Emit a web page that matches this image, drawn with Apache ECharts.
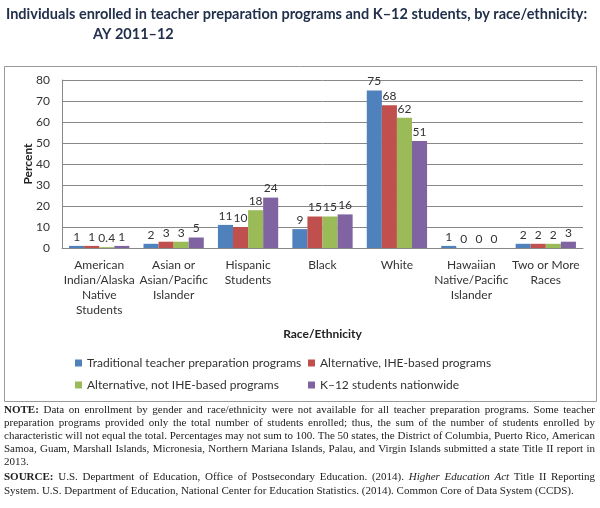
<!DOCTYPE html>
<html><head><meta charset="utf-8">
<script src="https://cdn.jsdelivr.net/npm/echarts@6/dist/echarts.min.js"></script>
<style>html,body{margin:0;padding:0;background:#fff}#c{width:600px;height:508px}</style>
</head><body><div id="c"></div>
<script>
var categories = ['American\nIndian/Alaska\nNative\nStudents','Asian or\nAsian/Pacific\nIslander','Hispanic\nStudents','Black','White','Hawaiian\nNative/Pacific\nIslander','Two or More\nRaces'];
var seriesNames = ['Traditional teacher preparation programs','Alternative, IHE-based programs','Alternative, not IHE-based programs','K\u201312 students nationwide'];
var traditional = [1, 2, 11, 9, 75, 1, 2];
var altIHE = [1, 3, 10, 15, 68, 0, 2];
var altNotIHE = [0.4, 3, 18, 15, 62, 0, 2];
var k12 = [1, 5, 24, 16, 51, 0, 3];
var yTicks = [0, 80, 10];
var colors = ['#4F81BD','#C0504D','#9BBB59','#8064A2'];
var noteLines = [
 '{b|NOTE:} Data on enrollment by gender and race/ethnicity were not available for all teacher preparation programs. Some teacher',
 'preparation programs provided only the total number of students enrolled; thus, the sum of the number of students enrolled by',
 'characteristic will not equal the total. Percentages may not sum to 100. The 50 states, the District of Columbia, Puerto Rico, American',
 'Samoa, Guam, Marshall Islands, Micronesia, Northern Mariana Islands, Palau, and Virgin Islands submitted a state Title II report in',
 '2013.',
 '{b|SOURCE:} U.S. Department of Education, Office of Postsecondary Education. (2014). {i|Higher Education Act} Title II Reporting',
 'System. U.S. Department of Education, National Center for Education Statistics. (2014). Common Core of Data System (CCDS).'
];
var noteJustify = [true, true, true, true, false, true, false];
var noteY = [410, 423, 436, 449, 462, 477, 491];

var chart = echarts.init(document.getElementById('c'));
var dataSets = [traditional, altIHE, altNotIHE, k12];
var series = dataSets.map(function(d, i){
  return {
    name: seriesNames[i], type: 'bar', data: d, barGap: '0%', barCategoryGap: '19%',
    itemStyle: {color: colors[i]},
    label: {show: true, position: 'top', distance: 3, color: '#333', fontFamily: 'Lato', fontSize: 12}
  };
});
var legendPos = [[70,352],[303,352],[70,374],[303,374]];
var legends = seriesNames.map(function(n, i){
  return {data: [n], left: legendPos[i][0], top: legendPos[i][1], itemWidth: 7, itemHeight: 7, icon: 'rect', itemGap: 4,
    textStyle: {fontFamily: 'Lato', fontSize: 12, color: '#333'}, selectedMode: false};
});
var titleColor = '#22304c';
var graphics = [
  {type: 'rect', shape: {x: 4.5, y: 66.5, width: 592, height: 335}, style: {fill: 'none', stroke: '#999', lineWidth: 1}, z: -1},
  {type: 'text', left: 6, top: 7, style: {text: 'Individuals enrolled in teacher preparation programs and K\u201312 students, by race/ethnicity:', fontFamily: 'Lato', fontWeight: 'bold', fontSize: 14.5, fill: titleColor}},
  {type: 'text', left: 93, top: 27, style: {text: 'AY 2011\u201312', fontFamily: 'Lato', fontWeight: 'bold', fontSize: 14.5, fill: titleColor}}
];

// justified note text: each word laid out with measured widths
var FS = 11, FAM = '"Liberation Serif"';
var ctx = document.createElement('canvas').getContext('2d');
function fontOf(st){ return (st === 'i' ? 'italic ' : '') + (st === 'b' ? 'bold ' : '') + FS + 'px ' + FAM; }
function tokenize(line){
  var toks = [], re = /\{(b|i)\|([^}]*)\}|(\S+)/g, m;
  while ((m = re.exec(line))){
    if (m[1]) m[2].split(' ').forEach(function(w){ toks.push({t: w, s: m[1]}); });
    else toks.push({t: m[3], s: ''});
  }
  return toks;
}
var X0 = 4, X1 = 595;
noteLines.forEach(function(line, li){
  var toks = tokenize(line);
  var total = 0;
  toks.forEach(function(tk){ ctx.font = fontOf(tk.s); tk.w = ctx.measureText(tk.t).width; total += tk.w; });
  ctx.font = fontOf('');
  var sp = ctx.measureText(' ').width;
  var gap = noteJustify[li] && toks.length > 1 ? (X1 - X0 - total) / (toks.length - 1) : sp;
  var x = X0;
  toks.forEach(function(tk){
    graphics.push({type: 'text', x: x, y: noteY[li], style: {text: tk.t, fontFamily: 'Liberation Serif', fontSize: FS,
      fontWeight: tk.s === 'b' ? 'bold' : 'normal', fontStyle: tk.s === 'i' ? 'italic' : 'normal', fill: '#222', verticalAlign: 'middle'}});
    x += tk.w + gap;
  });
});

chart.setOption({
  animation: false,
  color: colors,
  grid: {left: 62, right: 17, top: 80, bottom: 260, containLabel: false},
  legend: legends,
  xAxis: {type: 'category', data: categories, name: 'Race/Ethnicity', nameLocation: 'middle', nameGap: 80, nameMoveOverlap: false,
    nameTextStyle: {fontFamily: 'Lato', fontWeight: 'bold', fontSize: 12, color: '#222'},
    axisLine: {lineStyle: {color: '#888'}}, axisTick: {show: false},
    axisLabel: {interval: 0, fontFamily: 'Lato', fontSize: 12, color: '#333', lineHeight: 15, margin: 10}},
  yAxis: {type: 'value', min: yTicks[0], max: yTicks[1], interval: yTicks[2], name: 'Percent', nameLocation: 'middle', nameGap: 28, nameRotate: 90, nameMoveOverlap: false,
    nameTextStyle: {fontFamily: 'Lato', fontWeight: 'bold', fontSize: 12, color: '#222'},
    axisLine: {show: true, lineStyle: {color: '#888'}}, axisTick: {show: false},
    splitLine: {lineStyle: {color: '#888'}},
    axisLabel: {fontFamily: 'Lato', fontSize: 12, color: '#333', margin: 12}},
  series: series,
  graphic: graphics
});
</script></body></html>
